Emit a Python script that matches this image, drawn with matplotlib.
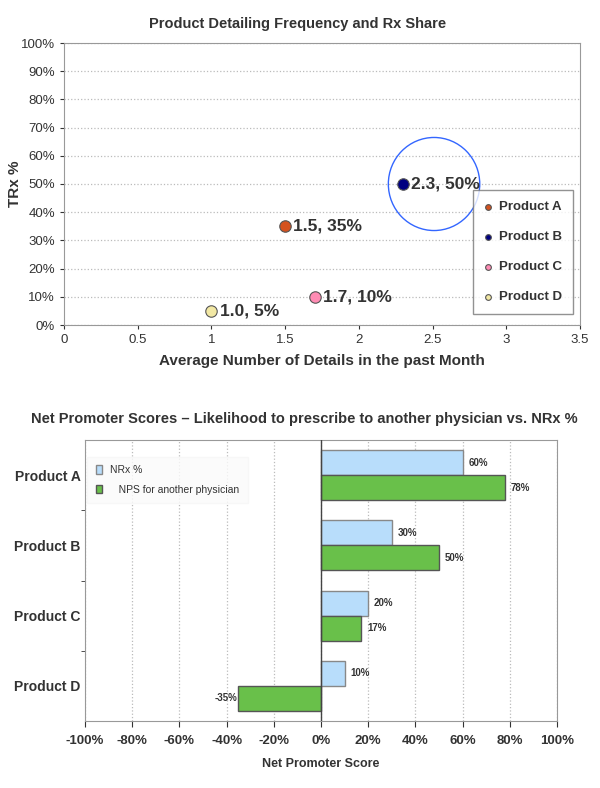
import numpy as np
import matplotlib
matplotlib.use("Agg")
import matplotlib.pyplot as plt
from matplotlib.patches import Ellipse
from matplotlib.ticker import FuncFormatter

plt.rcParams['font.family'] = ['Liberation Sans', 'DejaVu Sans']

# top chart data
products = ['Product A', 'Product B', 'Product C', 'Product D']
details = [1.5, 2.3, 1.7, 1.0]
trx = [35, 50, 10, 5]
dot_colors = ['#D4521F', '#000080', '#FF8CB4', '#F2E8A4']

# bottom chart data
nrx = [60, 30, 20, 10]
nps = [78, 50, 17, -35]

txt = '#333333'
frame = '#999999'

fig = plt.figure(figsize=(6, 7.88), dpi=100)

# ---- scatter
ax1 = fig.add_axes([64/600, 1-325/788, 516/600, 282/788])
for i in range(4):
    ax1.scatter(details[i], trx[i], s=68, color=dot_colors[i], edgecolor='#555555',
                linewidth=0.8, zorder=3, label=products[i])
    ax1.text(details[i] + 0.055, trx[i], '%.1f, %d%%' % (details[i], trx[i]),
             fontsize=12.5, fontweight='bold', color=txt, va='center', ha='left', zorder=4)
ax1.add_patch(Ellipse((2.51, 50), 0.62, 33, fill=False, edgecolor='#3366FF', lw=1, zorder=2))
ax1.set_xlim(0, 3.5)
ax1.set_ylim(0, 100)
ax1.set_xticks(np.arange(0, 3.51, 0.5))
ax1.set_xticklabels(['0', '0.5', '1', '1.5', '2', '2.5', '3', '3.5'])
ax1.set_yticks(np.arange(0, 101, 10))
ax1.yaxis.set_major_formatter(FuncFormatter(lambda v, p: '%d%%' % v))
ax1.tick_params(labelsize=9.5, colors=txt, length=3)
ax1.grid(axis='y', linestyle=':', color='#BBBBBB', linewidth=0.9)
for s in ax1.spines.values():
    s.set_color(frame)
ax1.set_xlabel('Average Number of Details in the past Month', fontsize=11,
               fontweight='bold', color=txt, labelpad=6)
ax1.set_ylabel('TRx %', fontsize=11, fontweight='bold', color=txt)
ax1.yaxis.set_label_coords(-42/516, 0.5)
fig.text(298/600, 1-24/788, 'Product Detailing Frequency and Rx Share', ha='center',
         va='center', fontsize=10.5, fontweight='bold', color=txt)
leg = ax1.legend(loc='lower right', bbox_to_anchor=(0.986, 0.04), borderaxespad=0,
                 fontsize=9.5, markerscale=0.5, labelspacing=1.35, handlelength=0.7,
                 handletextpad=0.5, borderpad=0.8,
                 frameon=True, fancybox=False, edgecolor='#777777')
for t in leg.get_texts():
    t.set_fontweight('bold')
    t.set_color(txt)

# ---- bars
ax2 = fig.add_axes([85/600, 1-721/788, 472/600, 281/788])
y = np.arange(4)
h = 0.355
ax2.barh(y - h/2, nrx, height=h, color='#B8DDFB', edgecolor='#888888', linewidth=1,
         label='NRx %', zorder=3)
ax2.barh(y + h/2, nps, height=h, color='#69C04A', edgecolor='#555555', linewidth=1,
         label='   NPS for another physician', zorder=3)
for i in range(4):
    ax2.text(nrx[i] + 2.5, y[i] - h/2, '%d%%' % nrx[i], fontsize=7, fontweight='bold',
             color=txt, va='center', ha='left')
    if nps[i] >= 0:
        ax2.text(nps[i] + 2.5, y[i] + h/2, '%d%%' % nps[i], fontsize=7, fontweight='bold',
                 color=txt, va='center', ha='left')
    else:
        ax2.text(nps[i] - 0.3, y[i] + h/2, '%d%%' % nps[i], fontsize=7, fontweight='bold',
                 color=txt, va='center', ha='right')
ax2.set_xlim(-100, 100)
ax2.set_ylim(3.5, -0.5)
ax2.set_xticks(np.arange(-100, 101, 20))
ax2.xaxis.set_major_formatter(FuncFormatter(lambda v, p: '%d%%' % v))
ax2.set_yticks(y)
ax2.set_yticklabels(products)
ax2.set_yticks([0.5, 1.5, 2.5], minor=True)
ax2.tick_params(axis='y', which='major', length=0, labelsize=10, pad=3)
ax2.tick_params(axis='y', which='minor', length=3, color=txt)
ax2.tick_params(axis='x', labelsize=9.5, length=4, colors=txt, pad=6)
for lab in ax2.get_xticklabels() + ax2.get_yticklabels():
    lab.set_fontweight('bold')
    lab.set_color(txt)
ax2.grid(axis='x', linestyle=':', color='#BBBBBB', linewidth=0.9, zorder=0)
ax2.axvline(0, color='#444444', linewidth=1, zorder=4)
for s in ax2.spines.values():
    s.set_color(frame)
ax2.set_xlabel('Net Promoter Score', fontsize=9, fontweight='bold', color=txt, labelpad=8)
leg2 = ax2.legend(loc='upper left', bbox_to_anchor=(0.005, 0.94), borderaxespad=0,
                  fontsize=7.5, handlelength=0.6, handleheight=0.9, labelspacing=0.9,
                  borderpad=0.8, frameon=True, fancybox=False,
                  edgecolor='#F6F6F6', facecolor='#FBFBFB')
for t in leg2.get_texts():
    t.set_color(txt)
fig.text(304/600, 1-419/788,
         'Net Promoter Scores \u2013 Likelihood to prescribe to another physician vs. NRx %',
         ha='center', va='center', fontsize=10.5, fontweight='bold', color=txt)

fig.savefig('out.png', dpi=100, facecolor='white')
